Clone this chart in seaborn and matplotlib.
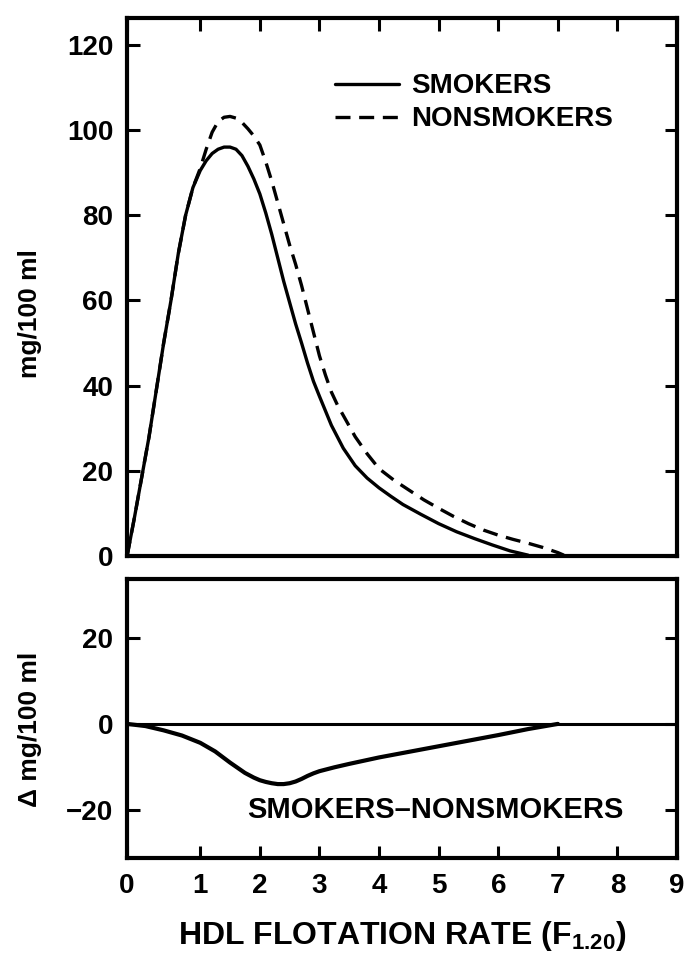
import numpy as np
import pandas as pd
import matplotlib
matplotlib.use("Agg")
import matplotlib.pyplot as plt
import seaborn as sns

# ---- data ----
smk_x = [0.0, 0.1, 0.2, 0.3, 0.4, 0.5, 0.6, 0.7, 0.8, 0.9, 1.0, 1.1, 1.2, 1.3, 1.4, 1.5,
         1.6, 1.7, 1.8, 1.9, 2.0, 2.1, 2.2, 2.3, 2.4, 2.5, 2.6, 2.7, 2.8, 2.9, 3.0, 3.2,
         3.4, 3.6, 3.8, 4.0, 4.2, 4.4, 4.7, 5.0, 5.3, 5.6, 5.9, 6.2, 6.5]
smk_y = [0.0, 9.0, 18.5, 28.0, 39.0, 50.0, 60.0, 71.0, 80.0, 86.5, 90.5, 92.8, 94.5, 95.5,
         96.0, 96.0, 95.5, 94.0, 91.5, 88.5, 85.0, 80.5, 75.5, 70.0, 64.5, 59.5, 54.5, 50.0,
         45.3, 41.0, 37.5, 30.7, 25.3, 21.2, 18.3, 16.0, 14.0, 12.1, 9.8, 7.6, 5.7, 4.1,
         2.6, 1.2, 0.2]

non_x = [0.0, 0.1, 0.2, 0.3, 0.4, 0.5, 0.6, 0.7, 0.8, 0.9, 1.0, 1.1, 1.2, 1.3, 1.4, 1.5,
         1.6, 1.7, 1.8, 1.9, 2.0, 2.1, 2.2, 2.3, 2.4, 2.5, 2.6, 2.7, 2.8, 2.9, 3.0, 3.1,
         3.2, 3.3, 3.4, 3.5, 3.6, 3.8, 4.0, 4.25, 4.5, 4.75, 5.0, 5.25, 5.5, 5.75, 6.0,
         6.25, 6.5, 6.75, 7.0, 7.1]
non_y = [0.0, 9.0, 18.5, 28.0, 39.0, 50.0, 60.0, 71.0, 80.0, 86.5, 91.0, 95.5, 99.5, 102.0,
         103.0, 103.2, 102.8, 101.8, 100.3, 98.6, 96.5, 92.5, 88.0, 83.0, 78.0, 73.0, 68.5,
         63.5, 58.0, 52.5, 47.0, 42.5, 38.5, 35.5, 33.0, 30.5, 28.0, 24.0, 20.5, 17.8, 15.5,
         13.2, 11.2, 9.3, 7.6, 6.1, 4.9, 3.9, 3.0, 2.0, 0.8, 0.2]

diff_x = [0.0, 0.25, 0.5, 0.75, 1.0, 1.25, 1.5, 1.75, 1.9, 2.0, 2.1, 2.2, 2.3, 2.4, 2.5,
          2.6, 2.7, 2.8, 2.9, 3.0, 3.25, 3.5, 4.0, 4.5, 5.0, 5.5, 6.0, 6.5, 7.0]
diff_y = [0.0, -0.5, -1.5, -2.7, -4.4, -6.4, -9.0, -11.4, -12.5, -13.1, -13.5, -13.8,
          -14.0, -14.0, -13.8, -13.4, -12.8, -12.1, -11.5, -11.0, -10.1, -9.3, -7.8,
          -6.5, -5.2, -3.9, -2.6, -1.2, 0.0]

x_ticks = list(range(0, 10))
top_yticks = [0, 20, 40, 60, 80, 100, 120]
bot_yticks = [-20, 0, 20]

labels = ["SMOKERS", "NONSMOKERS"]

# ---- style ----
sns.set_theme(style="ticks")
plt.rcParams["font.family"] = ["Liberation Sans", "DejaVu Sans"]
plt.rcParams["font.weight"] = "bold"
plt.rcParams["text.color"] = "black"
plt.rcParams["axes.labelcolor"] = "black"
plt.rcParams["xtick.color"] = "black"
plt.rcParams["ytick.color"] = "black"
plt.rcParams["mathtext.fontset"] = "custom"
plt.rcParams["mathtext.rm"] = "Liberation Sans:bold"
plt.rcParams["mathtext.bf"] = "Liberation Sans:bold"
plt.rcParams["mathtext.it"] = "Liberation Sans:bold"

fig = plt.figure(figsize=(6.87, 9.59), dpi=100)
ax1 = fig.add_axes([0.185, 0.4202, 0.8006, 0.561])
ax2 = fig.add_axes([0.185, 0.1053, 0.8006, 0.2909])

def fwd(x):
    x = np.asarray(x, dtype=float)
    return np.where(x < 1, x * 1.227, x + 0.227)

def inv(y):
    y = np.asarray(y, dtype=float)
    return np.where(y < 1.227, y / 1.227, y - 0.227)

LW = 2.4
sns.lineplot(x=smk_x, y=smk_y, ax=ax1, color="black", linewidth=LW, label=labels[0],
             estimator=None, sort=False)
sns.lineplot(x=non_x, y=non_y, ax=ax1, color="black", linewidth=LW, label=labels[1],
             estimator=None, sort=False, dashes=False)
ax1.lines[1].set_dashes((4.5, 2.6))

sns.lineplot(x=diff_x, y=diff_y, ax=ax2, color="black", linewidth=3.0,
             estimator=None, sort=False)
ax2.axhline(0, color="black", linewidth=2.2)

for ax in (ax1, ax2):
    ax.set_xscale("function", functions=(fwd, inv))
    ax.set_xlim(0, 9)
    ax.set_xticks(x_ticks)
    for s in ax.spines.values():
        s.set_linewidth(3.0)
        s.set_color("black")
    ax.tick_params(axis="both", direction="in", length=9, width=2.2, color="black",
                   labelsize=20, pad=10, labelcolor="black")

ax1.set_ylim(0, 126.3)
ax1.set_yticks(top_yticks)
ax1.tick_params(axis="x", top=True, bottom=False, labelbottom=False)
ax1.tick_params(axis="y", right=True)
ax1.set_ylabel("mg/100 ml", fontsize=19, fontweight="bold", color="black")
ax1.yaxis.set_label_coords(-0.155, 0.45)

ax2.set_ylim(-31.2, 33.7)
ax2.set_yticks(bot_yticks)
ax2.tick_params(axis="x", top=False, bottom=True, pad=11)
ax2.tick_params(axis="y", right=True)
ax2.set_ylabel("\u0394 mg/100 ml", fontsize=19, fontweight="bold", color="black")
ax2.yaxis.set_label_coords(-0.155, 0.46)
ax2.set_xlabel(r"HDL FLOTATION RATE (F$_{\mathbf{1.20}}$)", fontsize=23,
               fontweight="bold", labelpad=14, color="black")
ax2.text(4.95, -20, "SMOKERS\u2013NONSMOKERS", fontsize=21, fontweight="bold",
         ha="center", va="center", color="black")

for lab in ax1.get_yticklabels() + ax2.get_yticklabels() + ax2.get_xticklabels():
    lab.set_fontweight("bold")
    lab.set_color("black")

leg = ax1.legend(loc="upper left", bbox_to_anchor=(0.378, 0.897), frameon=False,
                 fontsize=20, handlelength=2.3, handletextpad=0.45, labelspacing=0.25,
                 borderpad=0, borderaxespad=0)
for t in leg.get_texts():
    t.set_fontweight("bold")
    t.set_color("black")

fig.savefig("out.png", dpi=100, facecolor="white")
